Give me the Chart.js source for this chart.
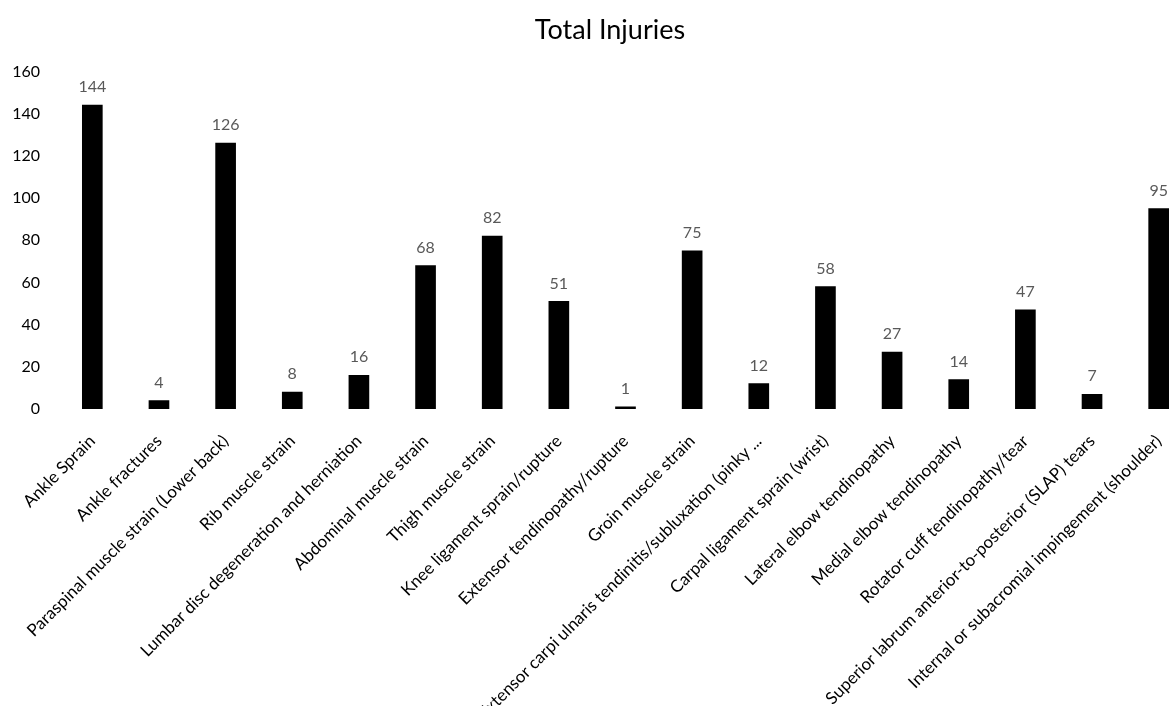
<!DOCTYPE html>
<html>
<head>
<meta charset="utf-8">
<title>Total Injuries</title>
<script src="https://cdn.jsdelivr.net/npm/chart.js@4.4.1/dist/chart.umd.min.js"></script>
<style>
    html, body { margin: 0; padding: 0; background: #fff; overflow: hidden; }
    #wrap { position: relative; width: 1220px; height: 706px; }
</style>
</head>
<body>
<div id="wrap"><canvas id="chart"></canvas></div>
<script>
// injury categories, in the order shown on the x axis
const injuryTypes = [
    'Ankle Sprain',
    'Ankle fractures',
    'Paraspinal muscle strain (Lower back)',
    'Rib muscle strain',
    'Lumbar disc degeneration and herniation',
    'Abdominal muscle strain',
    'Thigh muscle strain',
    'Knee ligament sprain/rupture',
    'Extensor tendinopathy/rupture',
    'Groin muscle strain',
    'Extensor carpi ulnaris tendinitis/subluxation (pinky ...',
    'Carpal ligament sprain (wrist)',
    'Lateral elbow tendinopathy',
    'Medial elbow tendinopathy',
    'Rotator cuff tendinopathy/tear',
    'Superior labrum anterior-to-posterior (SLAP) tears',
    'Internal or subacromial impingement (shoulder)'
];

const injuryCounts = [144, 4, 126, 8, 16, 68, 82, 51, 1, 75, 12, 58, 27, 14, 47, 7, 95];

const yTicks = [0, 20, 40, 60, 80, 100, 120, 140, 160];

const fontFamily = 'Lato, "Open Sans", sans-serif';

// value printed above every bar
const barValueLabels = {
    id: 'barValueLabels',
    afterDatasetsDraw(chart) {
        const ctx = chart.ctx;
        const meta = chart.getDatasetMeta(0);
        ctx.save();
        ctx.font = '16px ' + fontFamily;
        ctx.fillStyle = '#595959';
        ctx.textAlign = 'center';
        ctx.textBaseline = 'bottom';
        meta.data.forEach((bar, i) => {
            ctx.fillText(String(injuryCounts[i]), bar.x, bar.y - 10);
        });
        ctx.restore();
    }
};

// the original centres its title a bit right of the canvas middle
const titleNudge = {
    id: 'titleNudge',
    afterLayout(chart) {
        if (chart.titleBlock) chart.titleBlock.left = 28;
    }
};

new Chart(document.getElementById('chart'), {
    type: 'bar',
    data: {
        labels: injuryTypes,
        datasets: [{
            label: 'Total Injuries',
            data: injuryCounts,
            backgroundColor: '#000',
            borderWidth: 0,
            barThickness: 20
        }]
    },
    options: {
        responsive: true,
        maintainAspectRatio: false,
        animation: false,
        layout: { padding: { top: 10, left: 0, right: 28, bottom: 0 } },
        plugins: {
            legend: { display: false },
            tooltip: { enabled: false },
            title: {
                display: true,
                text: 'Total Injuries',
                color: '#000',
                font: { family: fontFamily, size: 27, weight: 'normal' },
                padding: { top: 4, bottom: 25 }
            }
        },
        scales: {
            x: {
                grid: { display: false },
                border: { display: false },
                afterFit(axis) {
                    // long labels run off the bottom like the original
                    axis.height = 297;
                    axis.paddingLeft = 0;
                    axis.paddingRight = 0;
                },
                ticks: {
                    color: '#000',
                    font: { family: fontFamily, size: 17 },
                    maxRotation: 45,
                    minRotation: 45,
                    autoSkip: false,
                    padding: 14
                }
            },
            y: {
                min: 0,
                max: 160,
                afterBuildTicks(axis) {
                    axis.ticks = yTicks.map((v) => ({ value: v }));
                },
                afterFit(axis) {
                    axis.width = 59;
                },
                grid: { display: false },
                border: { display: false },
                ticks: {
                    color: '#000',
                    font: { family: fontFamily, size: 16 },
                    padding: 11
                }
            }
        }
    },
    plugins: [barValueLabels, titleNudge]
});
</script>
</body>
</html>
